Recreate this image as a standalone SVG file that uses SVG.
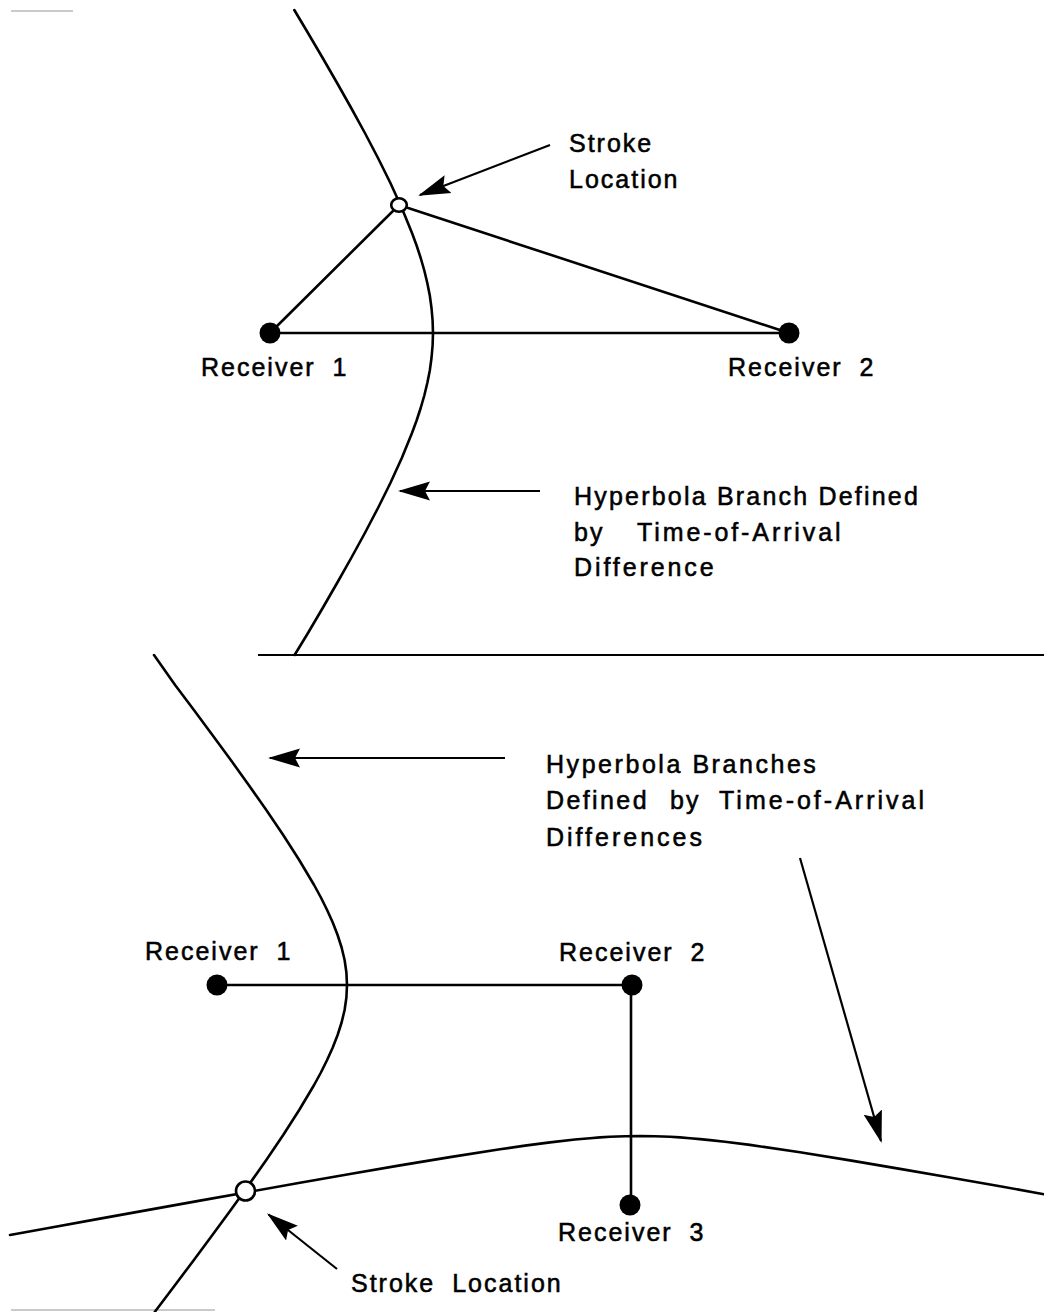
<svg xmlns="http://www.w3.org/2000/svg" width="1044" height="1312" viewBox="0 0 1044 1312">
<style>
.bg{fill:#fff}
.curve{fill:none;stroke:#000;stroke-width:2.6;stroke-linejoin:round;stroke-linecap:round}
.link{fill:none;stroke:#000;stroke-width:2.6;stroke-linecap:round}
.arrow{fill:none;stroke:#000;stroke-width:2.2;marker-end:url(#ah)}
.rcv{fill:#000}
.loc{fill:#fff;stroke:#000;stroke-width:2.6}
.sep{stroke:#000;stroke-width:2}
.faint{stroke:#b8b8b8;stroke-width:1.5}
text{font-family:"Liberation Sans",Arial,Helvetica,sans-serif;font-size:25px;letter-spacing:2px;fill:#000;stroke:#000;stroke-width:0.55}
.w{word-spacing:8px}
</style>
<defs>
<marker id="ah" markerWidth="34" markerHeight="22" refX="30" refY="11" orient="auto" markerUnits="userSpaceOnUse" viewBox="0 0 34 22">
<path d="M32,11 L0,1.5 L5,11 L0,20.5 Z" fill="#000"/>
</marker>
</defs>
<rect class="bg" x="0" y="0" width="1044" height="1312"/>

<g id="frame">
<line class="faint" x1="11" y1="11" x2="73" y2="11"/>
<line class="sep" x1="258" y1="655" x2="1044" y2="655"/>
<line class="faint" x1="11" y1="1310" x2="215" y2="1310"/>
</g>

<g id="curves">
<polyline id="hyperbola-top" class="curve" points="294.3,10 308,33 322.7,58 337.1,83 351.2,108 364.9,133 378,158 390.4,183 401.8,208 412,233 416.6,245.5 420.7,258 424.3,270.5 427.3,283 429.8,295.5 431.5,308 432.6,320.5 433,333 432.6,345.5 431.5,358 429.8,370.5 427.3,383 424.3,395.5 420.7,408 416.6,420.5 412,433 401.8,458 390.4,483 378,508 364.9,533 351.2,558 337.1,583 322.7,608 308,633 294.6,655"/>
<polyline id="hyperbola-bottom-1" class="curve" points="154,655 175.1,685 193.9,710 212.4,735 230.8,760 248.7,785 266.3,810 283.2,835 299.2,860 314.1,885 320.9,897.5 327.1,910 332.75,922.5 337.6,935 341.6,947.5 344.6,960 346.4,972.5 347,985 346.4,997.5 344.6,1010 341.6,1022.5 337.6,1035 332.75,1047.5 327.1,1060 320.9,1072.5 314.1,1085 299.2,1110 283.2,1135 266.3,1160 248.7,1185 230.8,1210 212.4,1235 193.9,1260 175.1,1285 154.7,1312"/>
<polyline id="hyperbola-bottom-2" class="curve" points="10,1235 50,1227.7 100,1218.6 150,1209.6 200,1200.6 250,1191.7 300,1182.8 350,1174 400,1165.4 450,1157.1 500,1149.3 525,1145.6 550,1142.4 575,1139.5 590,1138.2 600,1137.4 610,1136.8 625,1136.2 640,1136 655,1136.2 670,1136.8 680,1137.4 690,1138.2 700,1139.1 710,1140.1 725,1141.7 750,1144.9 800,1152.3 850,1160.4 900,1168.9 950,1177.5 1000,1186.3 1044,1194.2"/>
</g>

<g id="connectors">
<line class="link" x1="270" y1="333" x2="789" y2="333"/>
<line class="link" x1="270" y1="333" x2="399" y2="205"/>
<line class="link" x1="399" y1="205" x2="789" y2="333"/>
<line class="link" x1="217" y1="985" x2="632" y2="985"/>
<line class="link" x1="631" y1="985" x2="631" y2="1205"/>
<line class="arrow" x1="550" y1="145" x2="420" y2="195"/>
<line class="arrow" x1="540" y1="491" x2="400" y2="491"/>
<line class="arrow" x1="505" y1="758" x2="270" y2="758"/>
<line class="arrow" x1="800" y1="858" x2="881" y2="1141"/>
<line class="arrow" x1="337" y1="1269" x2="268.5" y2="1214.5"/>
</g>

<g id="top-receiver-1"><circle class="rcv" cx="270" cy="333" r="10.5"/><text class="w" x="201" y="376">Receiver 1</text></g>
<g id="top-receiver-2"><circle class="rcv" cx="789" cy="333" r="10.5"/><text class="w" x="728" y="376">Receiver 2</text></g>
<g id="top-stroke-location"><ellipse class="loc" cx="399" cy="205" rx="7.8" ry="6.8"/><text x="569" y="152">Stroke</text><text x="569" y="188">Location</text></g>
<g id="top-hyperbola-label">
<text x="574" y="505" style="letter-spacing:2.2px">Hyperbola Branch Defined</text>
<text x="574" y="541"><tspan>by</tspan> <tspan x="637" style="letter-spacing:2.9px">Time-of-Arrival</tspan></text>
<text x="574" y="576" style="letter-spacing:2.9px">Difference</text>
</g>

<g id="bottom-receiver-1"><circle class="rcv" cx="217" cy="985" r="10.5"/><text class="w" x="145" y="960">Receiver 1</text></g>
<g id="bottom-receiver-2"><circle class="rcv" cx="632" cy="985" r="10.5"/><text class="w" x="559" y="961">Receiver 2</text></g>
<g id="bottom-receiver-3"><circle class="rcv" cx="630" cy="1205" r="10.5"/><text class="w" x="558" y="1241">Receiver 3</text></g>
<g id="bottom-stroke-location"><circle class="loc" cx="245.5" cy="1191" r="9.5"/><text class="w" x="351" y="1292">Stroke Location</text></g>
<g id="bottom-hyperbola-label">
<text x="546" y="773" style="letter-spacing:2.55px">Hyperbola Branches</text>
<text x="546" y="809"><tspan style="letter-spacing:2.4px">Defined</tspan> <tspan x="670">by</tspan> <tspan x="719" style="letter-spacing:3px">Time-of-Arrival</tspan></text>
<text x="546" y="846" style="letter-spacing:3px">Differences</text>
</g>
</svg>
